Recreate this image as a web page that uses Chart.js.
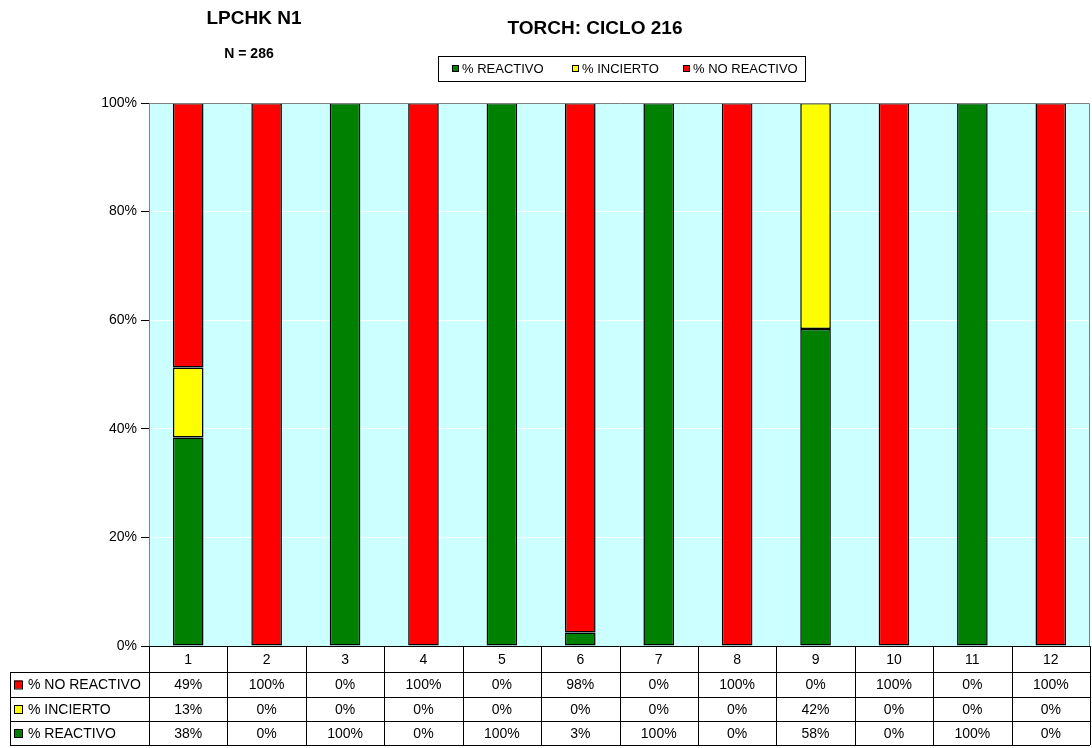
<!DOCTYPE html>
<html>
<head>
<meta charset="utf-8">
<script src="https://cdn.jsdelivr.net/npm/chart.js@4"></script>
<style>
  html, body { margin: 0; padding: 0; background: #fff; }
  #wrap { width: 1092px; height: 748px; }
</style>
</head>
<body>
<div id="wrap"><canvas id="chart" width="1092" height="748"></canvas></div>
<script>
const categories = ['1', '2', '3', '4', '5', '6', '7', '8', '9', '10', '11', '12'];
const reactivo = [38.4, 0, 100, 0, 100, 2.5, 100, 0, 58.4, 0, 100, 0];
const incierto = [12.9, 0, 0, 0, 0, 0, 0, 0, 41.6, 0, 0, 0];
const noReactivo = [48.7, 100, 0, 100, 0, 97.5, 0, 100, 0, 100, 0, 100];
const yTicks = [0, 20, 40, 60, 80, 100];

const FONT = '"Liberation Sans", Arial, sans-serif';
const GREEN = '#008000';
const YELLOW = '#FFFF00';
const RED = '#FF0000';

const noZero = arr => arr.map(v => v === 0 ? null : v);

const tablePlugin = {
  id: 'tablePlugin',
  beforeDraw: (chart) => {
    const { ctx, chartArea: a } = chart;
    ctx.save();
    ctx.fillStyle = '#CCFFFF';
    ctx.fillRect(a.left, a.top, a.right - a.left, a.bottom - a.top);
    ctx.restore();
  },
  afterDraw: (chart) => {
    const { ctx, chartArea: a } = chart;
    const x = chart.scales.x;
    const colW = (a.right - a.left) / categories.length;
    ctx.save();

    // plot frame top/right
    ctx.strokeStyle = '#808080';
    ctx.lineWidth = 1;
    ctx.beginPath();
    ctx.moveTo(a.left, a.top + 0.5);
    ctx.lineTo(a.right - 0.5, a.top + 0.5);
    ctx.lineTo(a.right - 0.5, a.bottom);
    ctx.stroke();

    // data table
    const rows = [
      { label: '% NO REACTIVO', color: RED, data: noReactivo },
      { label: '% INCIERTO', color: YELLOW, data: incierto },
      { label: '% REACTIVO', color: GREEN, data: reactivo }
    ];
    const top = a.bottom;
    const rowY = [top, top + 26, top + 51, top + 75, top + 99];
    const tableLeft = 10;
    ctx.strokeStyle = '#000';
    ctx.beginPath();
    rowY.forEach((y, i) => {
      const x0 = i === 0 ? a.left : tableLeft;
      ctx.moveTo(x0, y + 0.5);
      ctx.lineTo(a.right, y + 0.5);
    });
    for (let i = 0; i <= categories.length; i++) {
      const cx = Math.round(a.left + i * colW) + 0.5;
      ctx.moveTo(cx, top);
      ctx.lineTo(cx, rowY[4]);
    }
    ctx.moveTo(tableLeft + 0.5, rowY[1]);
    ctx.lineTo(tableLeft + 0.5, rowY[4]);
    ctx.stroke();

    ctx.fillStyle = '#000';
    ctx.font = '14px ' + FONT;
    ctx.textAlign = 'center';
    ctx.textBaseline = 'middle';
    categories.forEach((c, i) => {
      const cx = x.getPixelForValue(i);
      ctx.fillText(c, cx, (rowY[0] + rowY[1]) / 2 + 1);
      rows.forEach((r, j) => {
        ctx.fillText(Math.round(r.data[i]) + '%', cx, (rowY[j + 1] + rowY[j + 2]) / 2 + 1);
      });
    });
    rows.forEach((r, j) => {
      const cy = (rowY[j + 1] + rowY[j + 2]) / 2;
      ctx.fillStyle = r.color;
      ctx.fillRect(14, cy - 4, 8, 8);
      ctx.strokeStyle = '#000';
      ctx.strokeRect(14.5, cy - 3.5, 8, 8);
      ctx.fillStyle = '#000';
      ctx.textAlign = 'left';
      ctx.fillText(r.label, 28, cy + 1);
    });

    // titles
    ctx.textAlign = 'center';
    ctx.font = 'bold 19px ' + FONT;
    ctx.fillText('LPCHK N1', 254, 19);
    ctx.fillText('TORCH: CICLO 216', 595, 29);
    ctx.font = 'bold 14px ' + FONT;
    ctx.fillText('N = 286', 249, 54);

    // legend
    ctx.strokeStyle = '#000';
    ctx.strokeRect(438.5, 56.5, 367, 25);
    const items = [
      { label: '% REACTIVO', color: GREEN, x: 452 },
      { label: '% INCIERTO', color: YELLOW, x: 572 },
      { label: '% NO REACTIVO', color: RED, x: 683 }
    ];
    ctx.font = '13px ' + FONT;
    ctx.textAlign = 'left';
    items.forEach(it => {
      ctx.fillStyle = it.color;
      ctx.fillRect(it.x, 65, 7, 7);
      ctx.strokeStyle = '#000';
      ctx.strokeRect(it.x + 0.5, 65.5, 6, 6);
      ctx.fillStyle = '#000';
      ctx.fillText(it.label, it.x + 10, 69);
    });
    ctx.restore();
  }
};

const ctx = document.getElementById('chart').getContext('2d');
new Chart(ctx, {
  type: 'bar',
  data: {
    labels: categories,
    datasets: [
      { label: '% REACTIVO', data: noZero(reactivo), backgroundColor: GREEN },
      { label: '% INCIERTO', data: noZero(incierto), backgroundColor: YELLOW },
      { label: '% NO REACTIVO', data: noZero(noReactivo), backgroundColor: RED }
    ].map(d => Object.assign(d, {
      borderColor: '#000',
      borderWidth: 1.5,
      borderSkipped: false,
      categoryPercentage: 1,
      barPercentage: 0.39
    }))
  },
  options: {
    responsive: false,
    animation: false,
    layout: { padding: { left: 0, top: 103, right: 2, bottom: 102 } },
    plugins: {
      legend: { display: false },
      title: { display: false },
      tooltip: { enabled: false }
    },
    scales: {
      x: {
        stacked: true,
        display: false
      },
      y: {
        stacked: true,
        min: 0,
        max: 100,
        afterFit: s => { s.width = 149; },
        afterBuildTicks: s => { s.ticks = yTicks.map(v => ({ value: v })); },
        ticks: {
          color: '#000',
          font: { family: FONT, size: 14 },
          padding: 4,
          callback: v => v + '%'
        },
        grid: {
          color: 'rgba(255,255,255,0.9)',
          tickColor: '#000',
          tickLength: 8
        },
        border: { color: '#808080' }
      }
    }
  },
  plugins: [tablePlugin]
});
</script>
</body>
</html>
